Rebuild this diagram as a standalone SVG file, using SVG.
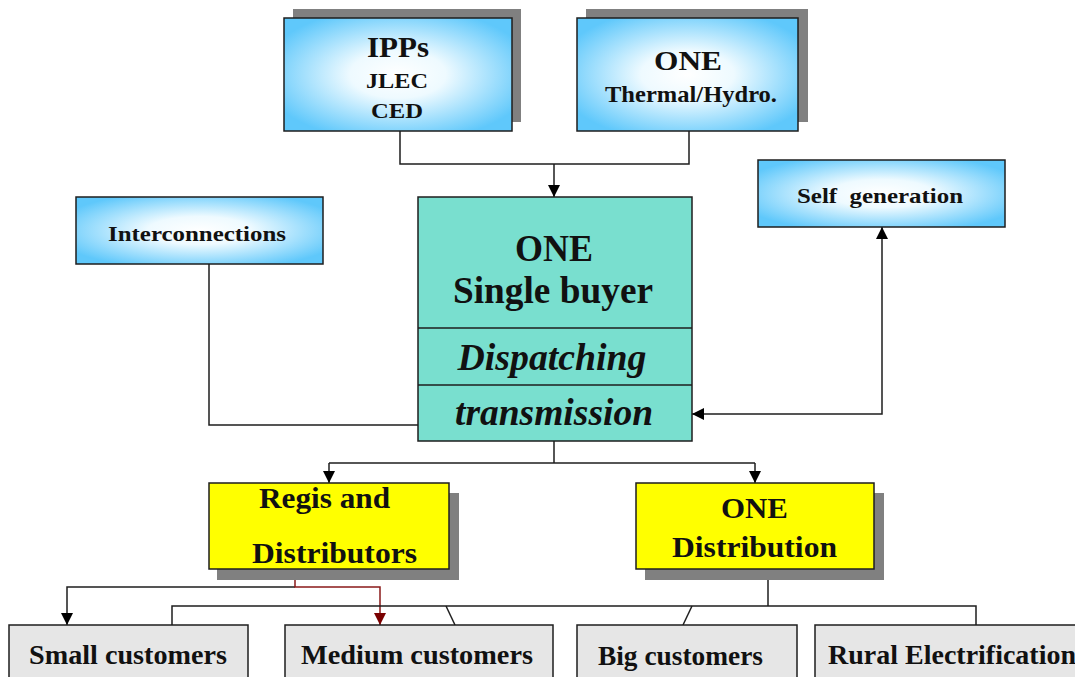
<svg xmlns="http://www.w3.org/2000/svg" width="1075" height="677" viewBox="0 0 1075 677">
<style>
  text { font-family: 'Liberation Serif', 'Times New Roman', serif; font-weight: 700; fill: #111; text-anchor: middle; }
  .it { font-style: italic; }
  .box { stroke: #1e1e1e; stroke-width: 1.5; }
  .blue { fill: url(#blueGrad); }
  .teal { fill: #79dfcf; }
  .yellow { fill: #ffff00; }
  .grey { fill: #e6e6e6; }
  .shadow { fill: #808080; }
  .conn { fill: none; stroke: #1e1e1e; stroke-width: 1.5; }
  .red { stroke: #8b1a1a; }
</style>
<defs>
  <radialGradient id="blueGrad" cx="0.5" cy="0.5" r="0.6">
    <stop offset="0" stop-color="#ffffff"/>
    <stop offset="0.35" stop-color="#eefaff"/>
    <stop offset="1" stop-color="#5fc8fb"/>
  </radialGradient>
  <marker id="ah" viewBox="0 0 10 10" refX="10" refY="5" markerWidth="12" markerHeight="12" markerUnits="userSpaceOnUse" orient="auto-start-reverse">
    <path d="M0,0 L10,5 L0,10 z" fill="#000"/>
  </marker>
  <marker id="ahr" viewBox="0 0 10 10" refX="10" refY="5" markerWidth="12" markerHeight="12" markerUnits="userSpaceOnUse" orient="auto">
    <path d="M0,0 L10,5 L0,10 z" fill="#7a0000"/>
  </marker>
</defs>
<rect width="1075" height="677" fill="#ffffff"/>

<g id="connectors">
  <path class="conn" d="M400,131 V164 H689 V131"/>
  <path class="conn" d="M554,164 V197" marker-end="url(#ah)"/>
  <path class="conn" d="M209,264 V425 H418"/>
  <path class="conn" d="M692,414 H882 V227" marker-start="url(#ah)" marker-end="url(#ah)"/>
  <path class="conn" d="M554,441 V463"/>
  <path class="conn" d="M329,463 H755"/>
  <path class="conn" d="M329,463 V483" marker-end="url(#ah)"/>
  <path class="conn" d="M755,463 V483" marker-end="url(#ah)"/>
  <path class="conn" d="M295,587 H67 V625" marker-end="url(#ah)"/>
  <path class="conn red" d="M295,569 V587 H380 V625" marker-end="url(#ahr)"/>
  <path class="conn" d="M172,625 V606 H976 V625"/>
  <path class="conn" d="M768,569 V606"/>
  <path class="conn" d="M446,606 L455,625"/>
  <path class="conn" d="M692,606 L683,625"/>
</g>

<g id="ipps">
  <rect class="shadow" x="293" y="9" width="228" height="113"/>
  <rect class="box blue" x="284" y="18" width="228" height="113"/>
  <text x="398" y="57" font-size="30" textLength="62" lengthAdjust="spacingAndGlyphs">IPPs</text>
  <text x="397" y="88" font-size="22" textLength="62" lengthAdjust="spacingAndGlyphs">JLEC</text>
  <text x="397" y="118" font-size="22" textLength="52" lengthAdjust="spacingAndGlyphs">CED</text>
</g>

<g id="one-thermal">
  <rect class="shadow" x="586" y="9" width="222" height="113"/>
  <rect class="box blue" x="577" y="18" width="221" height="113"/>
  <text x="688" y="70" font-size="28" textLength="68" lengthAdjust="spacingAndGlyphs">ONE</text>
  <text x="691" y="102" font-size="23" textLength="172" lengthAdjust="spacingAndGlyphs">Thermal/Hydro.</text>
</g>

<g id="interconnections">
  <rect class="box blue" x="76" y="197" width="247" height="67"/>
  <text x="197" y="241" font-size="22" textLength="178" lengthAdjust="spacingAndGlyphs">Interconnections</text>
</g>

<g id="self-generation">
  <rect class="box blue" x="758" y="160" width="247" height="67"/>
  <text x="880" y="203" font-size="22" textLength="166" lengthAdjust="spacingAndGlyphs" xml:space="preserve">Self  generation</text>
</g>

<g id="single-buyer">
  <rect class="box teal" x="418" y="197" width="274" height="244"/>
  <line class="conn" x1="418" y1="328" x2="692" y2="328"/>
  <line class="conn" x1="418" y1="385" x2="692" y2="385"/>
  <text x="554" y="261" font-size="37" textLength="78" lengthAdjust="spacingAndGlyphs">ONE</text>
  <text x="553" y="303" font-size="37" textLength="200" lengthAdjust="spacingAndGlyphs">Single buyer</text>
  <text class="it" x="552" y="370" font-size="37" textLength="189" lengthAdjust="spacingAndGlyphs">Dispatching</text>
  <text class="it" x="554" y="425" font-size="37" textLength="198" lengthAdjust="spacingAndGlyphs">transmission</text>
</g>

<g id="regis">
  <rect class="shadow" x="217" y="493" width="242" height="87"/>
  <rect class="box yellow" x="209" y="483" width="240" height="86"/>
  <text x="324.5" y="508" font-size="30" textLength="131" lengthAdjust="spacingAndGlyphs">Regis and</text>
  <text x="334.5" y="563" font-size="30" textLength="165" lengthAdjust="spacingAndGlyphs">Distributors</text>
</g>

<g id="one-distribution">
  <rect class="shadow" x="645" y="493" width="239" height="87"/>
  <rect class="box yellow" x="636" y="483" width="238" height="86"/>
  <text x="754.5" y="518" font-size="30" textLength="67" lengthAdjust="spacingAndGlyphs">ONE</text>
  <text x="754.5" y="557" font-size="30" textLength="165" lengthAdjust="spacingAndGlyphs">Distribution</text>
</g>

<g id="small-customers">
  <rect class="box grey" x="9" y="625" width="239" height="70"/>
  <text x="128" y="664" font-size="28" textLength="198" lengthAdjust="spacingAndGlyphs">Small customers</text>
</g>

<g id="medium-customers">
  <rect class="box grey" x="285" y="625" width="268" height="70"/>
  <text x="417" y="664" font-size="28" textLength="232" lengthAdjust="spacingAndGlyphs">Medium customers</text>
</g>

<g id="big-customers">
  <rect class="box grey" x="577" y="625" width="220" height="70"/>
  <text x="680.5" y="665" font-size="28" textLength="165" lengthAdjust="spacingAndGlyphs">Big customers</text>
</g>

<g id="rural-electrification">
  <rect class="box grey" x="815" y="625" width="280" height="70"/>
  <text x="828" y="664" font-size="28" style="text-anchor:start">Rural Electrification</text>
</g>
</svg>
